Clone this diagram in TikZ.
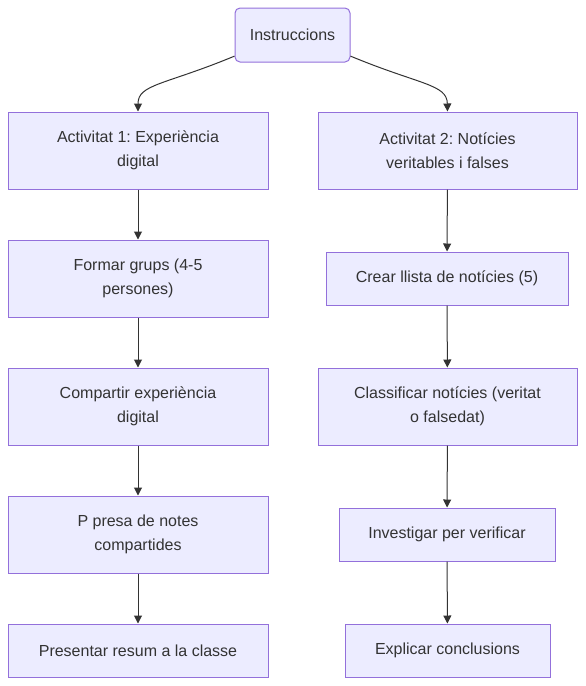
\documentclass[tikz,border=0pt]{standalone}
\usepackage{fontspec}
\setmainfont{Liberation Sans}
\frenchspacing
\usepackage{tikz}
\usetikzlibrary{arrows.meta, positioning}
\definecolor{boxfill}{HTML}{ECECFF}
\definecolor{boxline}{HTML}{9370DB}
\definecolor{textgrey}{HTML}{333333}

\begin{document}
\begin{tikzpicture}[
    x=1pt, y=-1pt,
    box/.style={rectangle, draw=boxline, fill=boxfill, line width=1pt, inner sep=0pt,
        text=textgrey, align=center, font=\fontsize{16}{24}\selectfont},
    start/.style={box, rounded corners=5pt, minimum width=115pt, minimum height=54pt},
    wide/.style={box, minimum width=260pt, minimum height=77pt},
    low/.style={box, minimum height=53pt},
    arrow/.style={-{Triangle[length=8pt,width=8pt]}, line width=1pt, textgrey}
]
    \useasboundingbox (0,0) rectangle (586,686);

    % Nodes
    \node[start] (ins) at (292.5,35) {Instruccions};

    \node[wide] (a1) at (138,150.5) {Activitat 1: Experiència\\digital};
    \node[wide] (b1) at (138,278.5) {Formar grups (4-5\\persones)};
    \node[wide] (c1) at (138,406.5) {Compartir experiència\\digital};
    \node[wide] (d1) at (138,534.5) {P presa de notes\\compartides};
    \node[low, minimum width=260pt] (e1) at (138,650.5) {Presentar resum a la classe};

    \node[wide, minimum width=259pt] (a2) at (447.5,150.5) {Activitat 2: Notícies\\veritables i falses};
    \node[low, minimum width=242pt] (b2) at (447,278.5) {Crear llista de notícies (5)};
    \node[wide, minimum width=259pt] (c2) at (447.5,406.5) {Classificar notícies (veritat\\o falsedat)};
    \node[low, minimum width=216pt] (d2) at (447,534.5) {Investigar per verificar};
    \node[low, minimum width=205pt] (e2) at (447.5,650.5) {Explicar conclusions};

    % Arrows
    \draw[arrow] (ins.200) .. controls (165,85) and (138,84) .. (a1.north);
    \draw[arrow] (ins.340) .. controls (420,85) and (447,84) .. (a2.north);
    \draw[arrow] (a1) -- (b1);
    \draw[arrow] (b1) -- (c1);
    \draw[arrow] (c1) -- (d1);
    \draw[arrow] (d1) -- (e1);
    \draw[arrow] (a2) -- (b2);
    \draw[arrow] (b2) -- (c2);
    \draw[arrow] (c2) -- (d2);
    \draw[arrow] (d2) -- (e2);
\end{tikzpicture}
\end{document}
